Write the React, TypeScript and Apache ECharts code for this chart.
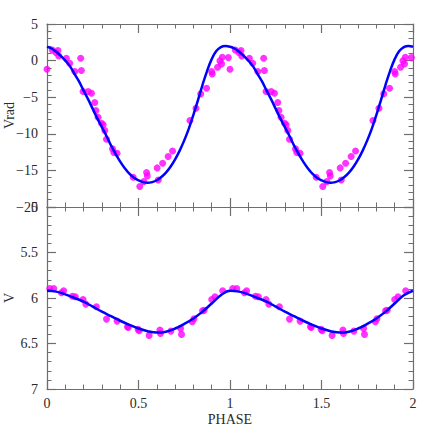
import React, { useEffect, useRef } from "react";
import * as echarts from "echarts";

// Radial velocity observations (phase in [0,1))
const vradPhase = [0.000,0.029,0.048,0.060,0.064,0.106,0.124,0.152,0.184,0.188,0.197,0.225,0.243,0.261,0.267,0.279,0.298,0.307,0.316,0.325,0.358,0.365,0.383,0.471,0.507,0.529,0.544,0.548,0.608,0.602,0.632,0.662,0.686,0.781,0.814,0.840,0.872,0.900,0.903,0.932,0.945,0.954,0.958,0.991];
const vradObs = [-1.18,1.46,1.10,1.37,0.64,0.32,-0.36,-1.50,0.32,-1.36,-4.23,-4.23,-4.46,-5.73,-6.83,-7.74,-8.55,-8.78,-9.56,-10.74,-12.06,-12.56,-12.65,-15.93,-17.21,-16.53,-15.30,-15.75,-16.30,-14.66,-14.02,-13.11,-12.34,-8.19,-6.51,-4.55,-3.77,-1.50,-1.82,-0.91,-0.04,-0.45,0.46,0.41];

// Radial velocity model curve
const vradFitPhase = [0,0.025,0.05,0.075,0.1,0.125,0.15,0.175,0.2,0.225,0.25,0.275,0.3,0.325,0.35,0.375,0.4,0.425,0.45,0.475,0.5,0.525,0.55,0.575,0.6,0.625,0.65,0.675,0.7,0.725,0.75,0.775,0.8,0.825,0.85,0.875,0.9,0.925,0.95,0.975,1.0];
const vradFit = [1.90,1.65,1.20,0.65,0.00,-0.75,-1.80,-2.85,-4.10,-5.30,-6.60,-7.90,-9.10,-10.30,-11.60,-12.75,-13.80,-14.70,-15.45,-16.00,-16.35,-16.60,-16.70,-16.60,-16.35,-15.90,-15.30,-14.50,-13.50,-12.30,-10.90,-9.30,-7.40,-5.40,-3.30,-1.40,0.20,1.30,1.85,2.00,1.90];

// V magnitude observations
const vPhase = [0.015,0.037,0.079,0.091,0.139,0.155,0.197,0.212,0.270,0.325,0.383,0.440,0.444,0.498,0.504,0.558,0.617,0.620,0.677,0.730,0.735,0.794,0.803,0.850,0.859,0.900,0.918,0.960];
const vObs = [5.896,5.896,5.943,5.921,5.980,5.987,6.016,6.067,6.097,6.232,6.254,6.316,6.323,6.345,6.359,6.411,6.353,6.389,6.364,6.334,6.400,6.261,6.228,6.141,6.134,6.016,5.987,5.921];

// V model curve
const vFitPhase = [0,0.05,0.1,0.15,0.2,0.25,0.3,0.35,0.4,0.45,0.5,0.55,0.6,0.65,0.7,0.75,0.8,0.85,0.9,0.95,1.0];
const vFit = [5.92,5.93,5.96,6.00,6.04,6.095,6.15,6.20,6.25,6.295,6.335,6.365,6.38,6.37,6.335,6.285,6.225,6.15,6.06,5.97,5.92];

const xTicks = { min: 0, max: 2, interval: 0.5 };

function twoCycles(ph: number[], vals: number[]): number[][] {
  const out: number[][] = [];
  ph.forEach((p, i) => out.push([p, vals[i]]));
  ph.forEach((p, i) => {
    if (p + 1 <= 2.0001) out.push([p + 1, vals[i]]);
  });
  return out;
}
function twoCyclesLine(ph: number[], vals: number[]): number[][] {
  const out: number[][] = [];
  ph.forEach((p, i) => out.push([p, vals[i]]));
  ph.forEach((p, i) => {
    if (p > 0) out.push([p + 1, vals[i]]);
  });
  return out;
}

const FONT = "'Liberation Serif', 'DejaVu Serif', serif";
const AXIS_COLOR = "#6e6e6e";
const TEXT_COLOR = "#2a2a2a";

function fmt(v: number): string {
  return String(v).replace("-", "\u2212");
}

export default function App() {
  const ref = useRef<HTMLDivElement>(null);
  useEffect(() => {
    if (!ref.current) return;
    const chart = echarts.init(ref.current, null, { renderer: "svg" });

    const baseAxis = (extra: any) => ({
      axisLine: { show: true, onZero: false, lineStyle: { color: AXIS_COLOR, width: 1.2 } },
      axisTick: { show: true, inside: true, length: 9, lineStyle: { color: AXIS_COLOR, width: 1.2 } },
      minorTick: { show: true, splitNumber: 5, length: 4.5, lineStyle: { color: AXIS_COLOR, width: 1 } },
      splitLine: { show: false },
      minorSplitLine: { show: false },
      nameMoveOverlap: false,
      ...extra,
    });

    const xAxisDef = (grid: number, position: string, labels: boolean, name?: string) =>
      baseAxis({
        type: "value",
        gridIndex: grid,
        position,
        ...xTicks,
        name: name || "",
        nameLocation: "middle",
        nameGap: 23,
        nameTextStyle: { fontFamily: FONT, fontSize: 14, color: TEXT_COLOR },
        axisLabel: {
          show: labels,
          fontFamily: FONT,
          fontSize: 14,
          color: TEXT_COLOR,
          margin: 7,
          formatter: (v: number) => fmt(v),
        },
      });

    const yAxisDef = (grid: number, position: string, labels: boolean, range: any, name?: string, inverse?: boolean) =>
      baseAxis({
        type: "value",
        gridIndex: grid,
        position,
        inverse: !!inverse,
        ...range,
        name: name || "",
        nameLocation: "middle",
        nameGap: 31,
        nameRotate: 90,
        nameTextStyle: { fontFamily: FONT, fontSize: 14, color: TEXT_COLOR },
        axisLabel: {
          show: labels,
          fontFamily: FONT,
          fontSize: 14,
          color: TEXT_COLOR,
          margin: 9,
          formatter: (v: number) => fmt(v),
        },
      });

    chart.setOption({
      animation: false,
      backgroundColor: "#ffffff",
      grid: [
        { left: 47, right: 23, top: 24, height: 183, outerBoundsMode: "none", containLabel: false },
        { left: 47, right: 23, top: 207, height: 182, outerBoundsMode: "none", containLabel: false },
      ],
      xAxis: [
        xAxisDef(0, "bottom", false),
        xAxisDef(1, "bottom", true, "PHASE"),
        xAxisDef(0, "top", false),
        xAxisDef(1, "top", false),
      ],
      yAxis: [
        yAxisDef(0, "left", true, { min: -20, max: 5, interval: 5 }, "Vrad"),
        yAxisDef(1, "left", true, { min: 5, max: 7, interval: 0.5 }, "V", true),
        yAxisDef(0, "right", false, { min: -20, max: 5, interval: 5 }),
        yAxisDef(1, "right", false, { min: 5, max: 7, interval: 0.5 }, "", true),
      ],
      series: [
        {
          type: "scatter",
          xAxisIndex: 0,
          yAxisIndex: 0,
          data: twoCycles(vradPhase, vradObs),
          symbol: "circle",
          symbolSize: 7,
          itemStyle: { color: "#ff00ff" },
          z: 2,
        },
        {
          type: "line",
          xAxisIndex: 0,
          yAxisIndex: 0,
          data: twoCyclesLine(vradFitPhase, vradFit),
          smooth: 0.4,
          showSymbol: false,
          symbol: "none",
          lineStyle: { color: "#0000ff", width: 2.5 },
          z: 3,
        },
        {
          type: "scatter",
          xAxisIndex: 1,
          yAxisIndex: 1,
          data: twoCycles(vPhase, vObs),
          symbol: "circle",
          symbolSize: 7,
          itemStyle: { color: "#ff00ff" },
          z: 2,
        },
        {
          type: "line",
          xAxisIndex: 1,
          yAxisIndex: 1,
          data: twoCyclesLine(vFitPhase, vFit),
          smooth: 0.4,
          showSymbol: false,
          symbol: "none",
          lineStyle: { color: "#0000ff", width: 2.5 },
          z: 3,
        },
      ],
    });
    return () => chart.dispose();
  }, []);

  return (
    <div
      ref={ref}
      style={{ position: "fixed", left: 0, top: 0, width: 436, height: 436, background: "#fff" }}
    />
  );
}
